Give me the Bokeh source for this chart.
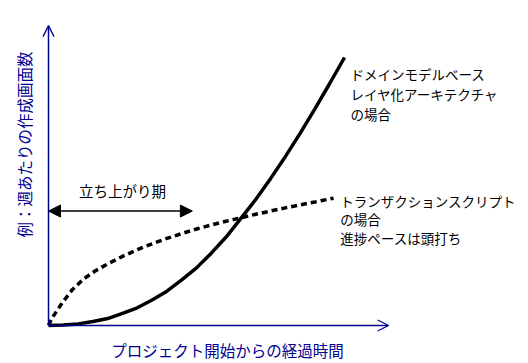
import math
from bokeh.plotting import figure
from bokeh.models import Range1d, Arrow, OpenHead, NormalHead, Label
from bokeh.embed import file_html
from bokeh.resources import INLINE

# Domain-model based layered architecture (solid curve)
domain_t = [0, 0.5, 1.0, 1.5, 2.0, 2.5, 3.0, 3.5, 4.0, 4.5, 5.0, 5.5, 6.0, 6.5, 7.0, 7.5, 8.0, 8.5, 9.0, 9.5, 10.0]
domain_v = [0, 0.02, 0.06, 0.15, 0.26, 0.45, 0.66, 0.95, 1.28, 1.70, 2.15, 2.70, 3.30, 4.00, 4.70, 5.48, 6.30, 7.17, 8.08, 9.03, 10.0]

# Transaction script (dashed curve)
ts_t = [0, 0.1, 0.3, 0.5, 0.8, 1.2, 1.6, 2.0, 2.5, 3.0, 3.5, 4.0, 4.5, 5.0, 5.5, 6.0, 6.5, 7.0, 7.5, 8.0, 8.5, 9.0, 9.63]
ts_v = [0, 0.24, 0.58, 0.90, 1.33, 1.75, 2.05, 2.30, 2.58, 2.83, 3.05, 3.25, 3.43, 3.60, 3.75, 3.89, 4.02, 4.15, 4.27, 4.39, 4.50, 4.61, 4.75]

# start-up period span
startup_t = [0, 4.86]
startup_v = 4.27

x_label = "プロジェクト開始からの経過時間"
y_label = "例：週あたりの作成画面数"
startup_label = "立ち上がり期"
domain_lines = ["ドメインモデルベース", "レイヤ化アーキテクチャ", "の場合"]
ts_lines = ["トランザクションスクリプト", "の場合", "進捗ペースは頭打ち"]

FONT = "Noto Sans CJK JP"
NAVY = "#00008f"

p = figure(width=528, height=363, output_backend="svg", toolbar_location=None,
           x_range=Range1d(-1.622, 16.216), y_range=Range1d(-1.418, 12.127),
           x_axis_location=None, y_axis_location=None, min_border=0)
p.grid.visible = False
p.outline_line_color = None
p.background_fill_color = "white"
p.border_fill_color = "white"

# axes with open arrow heads
p.add_layout(Arrow(end=OpenHead(size=11, line_color=NAVY, line_width=1.3),
                   x_start=0, y_start=0, x_end=11.49, y_end=0,
                   line_color=NAVY, line_width=1.5))
p.add_layout(Arrow(end=OpenHead(size=11, line_color=NAVY, line_width=1.3),
                   x_start=0, y_start=0, x_end=0, y_end=11.19,
                   line_color=NAVY, line_width=1.5))

# curves
p.line(ts_t, ts_v, line_color="black", line_width=3.5, line_dash="6 4")
p.line(domain_t, domain_v, line_color="black", line_width=3.5)

# double arrow
p.add_layout(Arrow(start=NormalHead(size=12, fill_color="black", line_color="black"),
                   end=NormalHead(size=12, fill_color="black", line_color="black"),
                   x_start=startup_t[0], y_start=startup_v, x_end=startup_t[1], y_end=startup_v,
                   line_color="black", line_width=1.5))

p.add_layout(Label(x=2.5, y=5.04, text=startup_label, text_font=FONT, text_font_size="14.5px",
                   text_align="center", text_baseline="middle", text_color="black"))

for i, s in enumerate(domain_lines):
    p.add_layout(Label(x=10.2, y=9.40 - i * 0.746, text=s, text_font=FONT, text_font_size="13.5px",
                       text_align="left", text_baseline="middle", text_color="black"))
for i, s in enumerate(ts_lines):
    p.add_layout(Label(x=9.86, y=4.66 - i * 0.70, text=s, text_font=FONT, text_font_size="13.5px",
                       text_align="left", text_baseline="middle", text_color="black"))

p.add_layout(Label(x=6.05, y=-0.90, text=x_label, text_font=FONT, text_font_size="15.5px",
                   text_align="center", text_baseline="middle", text_color=NAVY))
p.add_layout(Label(x=-0.84, y=6.75, text=y_label, text_font=FONT, text_font_size="15.5px",
                   text_align="center", text_baseline="middle", text_color=NAVY, angle=math.pi / 2))

open("out.html", "w").write(file_html(p, INLINE))
